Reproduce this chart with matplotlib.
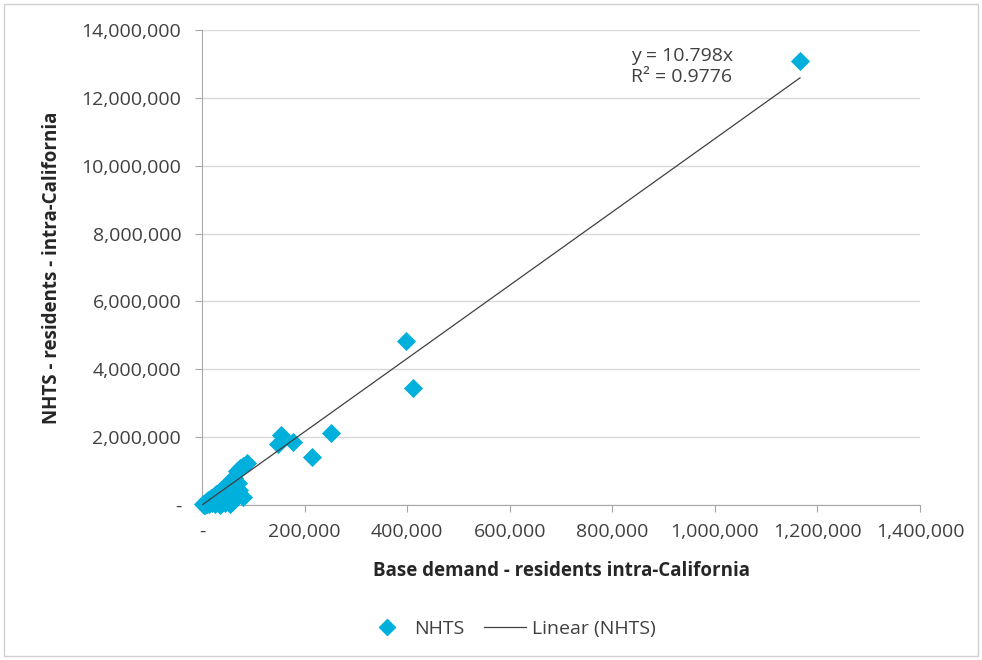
import numpy as np
import matplotlib.pyplot as plt
from matplotlib.ticker import FuncFormatter
from matplotlib.patches import Rectangle
from matplotlib.lines import Line2D

plt.rcParams['font.family'] = ['Open Sans', 'DejaVu Sans']

# base demand (x) vs NHTS (y), residents intra-California
base_demand = [1166000, 398000, 411000, 251000, 154000, 148000, 177000, 214000,
               88000, 80000, 75000, 68000, 62000, 55000, 50000, 45000, 38000,
               33000, 28000, 22000, 18000, 12000, 8000, 5000, 2000,
               72000, 70000, 65000, 60000, 58000, 52000, 48000, 42000, 40000,
               35000, 30000, 25000, 20000, 15000, 10000, 3000, 6000, 14000,
               25000, 45000, 35000, 55000, 65000, 80000]
nhts = [13090000, 4830000, 3450000, 2120000, 2060000, 1800000, 1860000, 1410000,
        1250000, 1150000, 1100000, 1000000, 800000, 700000, 600000, 520000, 450000,
        380000, 320000, 250000, 200000, 150000, 80000, 50000, 20000,
        450000, 650000, 350000, 500000, 100000, 250000, 400000, 150000, 300000,
        250000, 120000, 180000, 60000, 100000, 30000, 5000, 10000, 20000,
        30000, 60000, 10000, 30000, 200000, 240000]
slope = 10.798
r2 = 0.9776

fig = plt.figure(figsize=(9.82, 6.6), dpi=100)
ax = fig.add_axes([0.2057, 0.2348, 0.7312, 0.7197])

blue = '#00B0DC'
ax.scatter(base_demand, nhts, marker='D', s=95, color=blue, zorder=3,
           linewidths=0, clip_on=False)
xfit = np.array([0, max(base_demand)])
ax.plot(xfit, slope * xfit, color='#404040', lw=0.9, zorder=4)

ax.set_xlim(0, 1400000)
ax.set_ylim(0, 14000000)
ax.set_xticks(np.arange(0, 1400001, 200000))
ax.set_yticks(np.arange(0, 14000001, 2000000))
fmt = FuncFormatter(lambda v, p: '-' if v == 0 else f'{int(v):,}')
ax.xaxis.set_major_formatter(fmt)
ax.yaxis.set_major_formatter(fmt)
fs = 14
ax.tick_params(labelsize=fs, colors='#404040', length=5, color='#A6A6A6')
ax.tick_params(axis='x', pad=8)
ax.tick_params(axis='y', pad=10)
ax.grid(axis='y', color='#D9D9D9', lw=1)
ax.set_axisbelow(True)
for s in ['top', 'right']:
    ax.spines[s].set_visible(False)
for s in ['left', 'bottom']:
    ax.spines[s].set_color('#A6A6A6')

ax.set_xlabel('Base demand - residents intra-California', fontsize=13.5,
              fontweight='bold', color='#262626', labelpad=14)
ax.set_ylabel('NHTS - residents - intra-California', fontsize=13.5,
              fontweight='bold', color='#262626', labelpad=14)

ax.text(0.598, 0.965, f'y = {slope}x\nR² = {r2}', transform=ax.transAxes,
        fontsize=fs, color='#404040', va='top', ha='left', linespacing=1.25)

handles = [Line2D([], [], marker='D', color=blue, ls='none', markersize=8),
           Line2D([], [], color='#404040', lw=0.9)]
fig.legend(handles, ['NHTS', 'Linear (NHTS)'], loc='center', bbox_to_anchor=(0.52, 0.047),
           ncol=2, frameon=False, fontsize=fs, labelcolor='#404040',
           columnspacing=1.0, handlelength=2.2, handletextpad=0.3)

fig.patches.append(Rectangle((0.004, 0.006), 0.992, 0.988, transform=fig.transFigure,
                             fill=False, edgecolor='#D0D0D0', lw=1))

fig.savefig('out.png', dpi=100)
